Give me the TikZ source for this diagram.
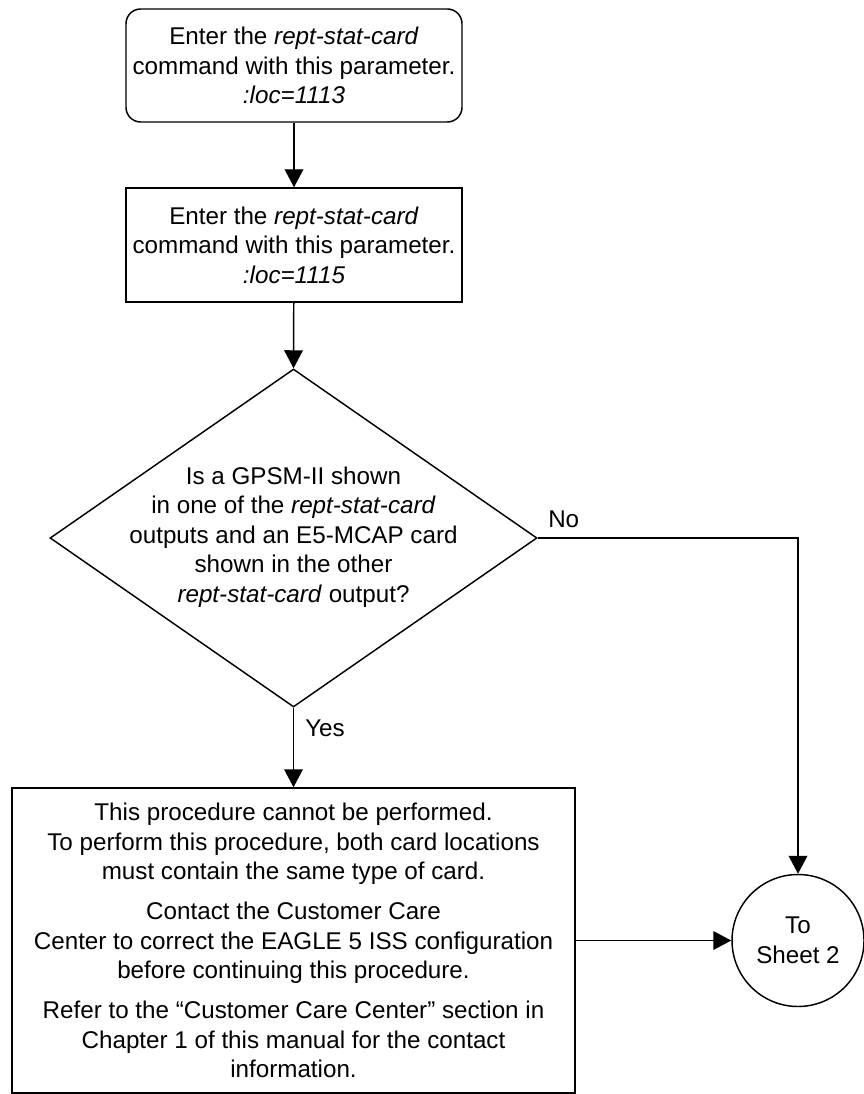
\documentclass[tikz,border=0pt]{standalone}
\usepackage{fontspec}
\setmainfont{Liberation Sans}
\usetikzlibrary{shapes.geometric,arrows.meta}
\begin{document}
\begin{tikzpicture}[x=0.75pt,y=-0.75pt,
  every node/.style={font=\fontsize{18.15}{22.1}\selectfont, align=center, inner sep=0pt},
  stepbox/.style={draw, line width=1.1pt, minimum width=252pt},
  conn/.style={line width=1.1pt, -{Triangle[length=13.5pt,width=14pt]}},
  plain/.style={line width=1.1pt}
]
\useasboundingbox (0,0) rectangle (863,1094);

\node[stepbox, rounded corners=11pt, minimum height=84.75pt] (b1) at (294,65.5)
  {Enter the \textit{rept-stat-card}\\command with this parameter.\\\textit{:loc=1113}};
\node[stepbox, minimum height=85.5pt] (b2) at (294,245)
  {Enter the \textit{rept-stat-card}\\command with this parameter.\\\textit{:loc=1115}};
\node[draw, diamond, line width=1.1pt, minimum width=365.25pt, minimum height=253.5pt] (d) at (293.5,538) {};
\node (dt) at (293.5,537)
  {Is a GPSM-II shown\\in one of the \textit{rept-stat-card}\\outputs and an E5-MCAP card\\shown in the other\\\textit{rept-stat-card} output?};
\node[stepbox, minimum width=422.25pt, minimum height=228.75pt] (b3) at (293.5,940.5)
  {This procedure cannot be performed.\\To perform this procedure, both card locations\\must contain the same type of card.\\[8pt]Contact the Customer Care\\Center to correct the EAGLE 5 ISS configuration\\before continuing this procedure.\\[8pt]Refer to the \char"201C Customer Care Center\char"201D{} section in\\Chapter 1 of this manual for the contact\\information.};
\node[draw, circle, line width=1.1pt, minimum size=99pt] (c) at (798,940.5) {To\\Sheet 2};

\node[anchor=west] (no) at (548,519) {No};
\node[anchor=west] (yes) at (305,728) {Yes};

\draw[conn] (b1) -- (b2);
\draw[conn] (b2) -- (d.north);
\draw[conn] (d.south) -- (b3);
\draw[conn] (d.east) -| (c.north);
\draw[conn] (b3) -- (c);
\end{tikzpicture}
\end{document}
